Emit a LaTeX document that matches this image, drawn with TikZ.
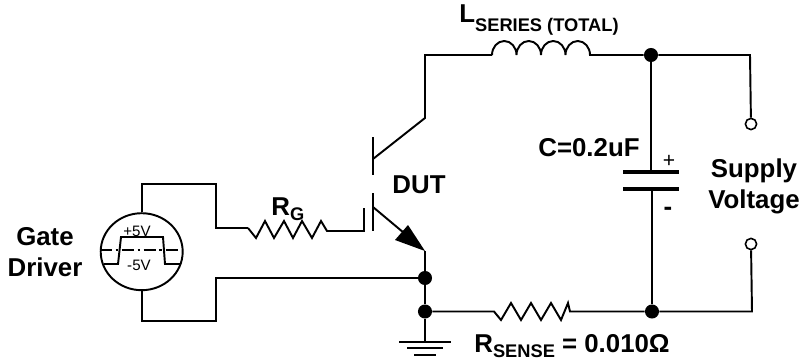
\documentclass[tikz,border=0pt]{standalone}
\usepackage{fontspec}
\setmainfont{Liberation Sans}
\usetikzlibrary{shapes.geometric}

\tikzset{
  wire/.style={line width=1.1pt, line join=miter},
  junction/.style={circle, fill=black, inner sep=0pt, minimum size=8pt},
  terminal/.style={circle, draw, fill=white, line width=.9pt, inner sep=0pt, minimum size=6.4pt},
  biglabel/.style={font=\fontsize{14.7}{17.6}\selectfont\bfseries, align=center, inner sep=0pt},
  smalllabel/.style={font=\fontsize{8.6}{9}\selectfont, inner sep=0pt},
}
\newcommand{\subtext}[2]{\raisebox{#1}{\fontsize{10.4}{10.4}\selectfont #2}}

\begin{document}
\begin{tikzpicture}[x=.02cm, y=-.02cm]
    \useasboundingbox (0, 0) rectangle (802, 362);

    % gate driver
    \node[ellipse, draw, line width=1.1pt, inner sep=0pt, minimum width=1.64cm, minimum height=1.54cm] (driver) at (141.7, 251.7) {};
    \draw[wire, dash pattern=on 7pt off 2pt on 1.5pt off 2pt] (driver.west) ++(0, -1.7) -- ++(81, 0);
    \draw[wire] (104, 264) -- (118, 264) -- (121, 237) -- (163, 237) -- (165, 264) -- (180, 264);
    \node[smalllabel] (plusfive) at (137, 231) {+5V};
    \node[smalllabel] (minusfive) at (139, 265) {-5V};
    \node[biglabel] (gatelabel) at (45, 252) {Gate\\Driver};

    % junctions
    \coordinate (gatewire) at (248, 228);
    \coordinate (gateend) at (364, 231);
    \coordinate (collector) at (425, 118);
    \coordinate (corner) at (425, 55);
    \coordinate (indin) at (492, 55);
    \coordinate (emitter) at (425, 251);
    \coordinate (gnd) at (425, 342);
    \coordinate (rsin) at (492, 311.5);
    \coordinate (capplus) at (651, 172);
    \coordinate (capminus) at (652, 189);
    \node[junction] (topdot) at (651, 55) {};
    \node[junction] (botdot) at (652, 311.5) {};
    \node[junction] (retdot) at (425, 278) {};
    \node[junction] (sensedot) at (425, 311.5) {};
    \node[terminal] (termtop) at (751, 124) {};
    \node[terminal] (termbot) at (751, 244) {};

    % gate loop
    \draw[wire] (driver.north) -- (141.7, 184) -- (216, 184) -- (216, 228) -- (gatewire);
    \draw[wire] (driver.south) -- (141.7, 321) -- (216, 321) -- (216, 278) -- (retdot);
    \draw[wire] (gatewire) -- (256, 238) -- (265, 221) -- (274, 238) -- (284, 221) -- (293, 238) -- (302, 221) -- (312, 238) -- (321, 221) -- (327, 231) -- (gateend) -- (364, 208);

    % transistor
    \draw[wire] (373, 137) -- (373, 175);
    \draw[wire] (373, 193) -- (373, 231);
    \draw[wire] (373, 159) -- (collector) -- (corner) -- (indin);
    \draw[wire] (373, 207) -- (410, 238);
    \fill (emitter) -- (408, 225) -- (395, 240) -- cycle;

    % series inductor
    \draw[wire] (indin) \foreach \i in {1,...,4} {arc[start angle=180, end angle=360, x radius=12.25, y radius=14]} -- (topdot) -- (750, 55) -- (termtop);

    % capacitor
    \draw[wire] (topdot) -- (capplus);
    \draw[line width=2pt] (623, 172) -- (679, 172);
    \draw[line width=2pt] (623, 189) -- (679, 189);
    \draw[wire] (capminus) -- (botdot);

    % return path
    \draw[wire] (emitter) -- (retdot) -- (sensedot) -- (gnd);
    \draw[wire] (sensedot) -- (rsin) -- ++(2, 0) -- ++(7, 8.5) -- ++(10, -17) -- ++(10, 17) -- ++(10, -17) -- ++(10, 17) -- ++(10, -17) -- ++(10, 17) -- ++(7, -17) -- ++(2, 8.5) -- (botdot) -- (752, 311.5) -- (termbot);

    % ground
    \draw[wire] (399, 342) -- (451, 342);
    \draw[wire] (407, 348) -- (443, 348);
    \draw[wire] (414, 355) -- (436, 355);

    % labels
    \node[biglabel, anchor=base west] (lseries) at (459, 22.5) {L\subtext{-5.2pt}{SERIES (TOTAL)}};
    \node[biglabel, anchor=base west] (rgate) at (271, 215) {R\subtext{-3.4pt}{G}};
    \node[biglabel] (dut) at (419, 185) {DUT};
    \node[biglabel] (capvalue) at (589, 148) {C=0.2uF};
    \node[font=\fontsize{12}{12}\selectfont, inner sep=0pt] (plussign) at (669, 161) {+};
    \node[biglabel] (minussign) at (668, 211) {-};
    \node[biglabel] (supply) at (754, 186) {Supply\\Voltage};
    \node[biglabel, anchor=base west] (rsense) at (474, 352) {R\subtext{-3.4pt}{SENSE} = 0.010Ω};
\end{tikzpicture}
\end{document}
